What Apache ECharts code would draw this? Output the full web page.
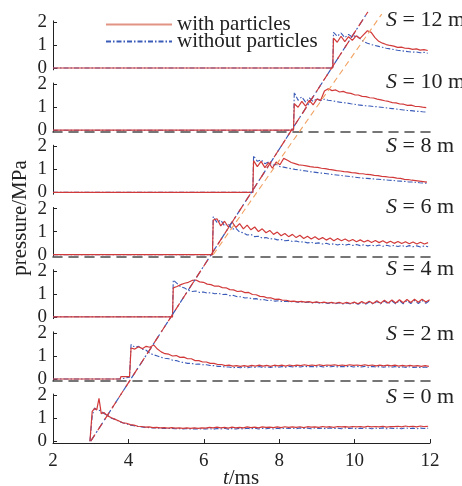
<!DOCTYPE html>
<html><head><meta charset="utf-8">
<script src="https://cdn.jsdelivr.net/npm/echarts@6/dist/echarts.min.js"></script>
<style>html,body{margin:0;padding:0;background:#fff}#c{width:462px;height:486px}</style>
</head><body><div id="c"></div>
<script>
// ---------------- data ----------------
const distances = ['12', '10', '8', '6', '4', '2', '0'];   // S in m, top to bottom
const xTicks = [2, 4, 6, 8, 10, 12];
const yTicks = [0, 1, 2];
const STEP = 0.1; // ms between tail samples

// S = 12 m
const head12T = [2, 9.42], head12W = [0, 0], head12N = [0, 0], tail12T0 = 9.44;
const tail12W = [1.30,1.12,1.38,1.15,1.36,1.20,1.40,1.28,1.45,1.62,1.55,1.32,1.16,1.08,1.02,0.98,0.95,0.90,0.91,0.86,0.85,0.81,0.83,0.78,0.80,0.76];
const tail12N = [1.55,1.38,1.52,1.32,1.46,1.34,1.42,1.28,1.15,1.08,1.02,0.98,0.94,0.90,0.86,0.83,0.80,0.77,0.75,0.73,0.71,0.69,0.70,0.66,0.68,0.64];
// S = 10 m
const head10T = [2, 8.38], head10W = [0, 0], head10N = [0, 0], tail10T0 = 8.40;
const tail10W = [1.15,1.00,1.25,1.05,1.30,1.10,1.35,1.30,1.70,1.80,1.72,1.75,1.66,1.69,1.62,1.60,1.54,1.53,1.47,1.46,1.41,1.40,1.35,1.32,1.28,1.25,1.20,1.19,1.14,1.13,1.08,1.09,1.04,1.03,1.00,0.98];
const tail10N = [1.65,1.30,1.45,1.22,1.40,1.25,1.38,1.28,1.35,1.30,1.28,1.25,1.22,1.20,1.18,1.15,1.13,1.10,1.08,1.06,1.05,1.03,1.02,1.00,0.98,0.96,0.94,0.92,0.90,0.88,0.86,0.85,0.83,0.82,0.80,0.79];
// S = 8 m
const head8T = [2, 7.30], head8W = [0, 0], head8N = [0, 0], tail8T0 = 7.32;
const tail8W = [1.38,1.12,1.35,1.08,1.30,1.05,1.32,1.20,1.48,1.40,1.30,1.25,1.20,1.18,1.15,1.12,1.10,1.09,1.05,1.03,1.00,0.98,0.95,0.93,0.90,0.89,0.86,0.85,0.82,0.81,0.78,0.77,0.74,0.73,0.70,0.69,0.66,0.65,0.62,0.61,0.57,0.56,0.53,0.51,0.49,0.47,0.45];
const tail8N = [1.60,1.35,1.42,1.25,1.32,1.18,1.22,1.12,1.10,1.06,1.03,1.00,0.98,0.95,0.93,0.90,0.88,0.86,0.84,0.82,0.80,0.78,0.76,0.74,0.72,0.70,0.68,0.66,0.64,0.62,0.61,0.60,0.58,0.57,0.56,0.54,0.53,0.52,0.50,0.49,0.48,0.46,0.45,0.44,0.42,0.41,0.40];
// S = 6 m
const head6T = [2, 6.23], head6W = [0, 0], head6N = [0, 0], tail6T0 = 6.25;
const tail6W = [1.50,1.56,1.25,1.45,1.20,1.42,1.18,1.35,1.12,1.28,1.08,1.20,1.00,1.12,0.95,1.05,0.88,0.98,0.82,0.92,0.78,0.88,0.74,0.84,0.70,0.80,0.68,0.78,0.66,0.74,0.63,0.72,0.60,0.70,0.60,0.68,0.58,0.66,0.56,0.64,0.55,0.62,0.53,0.61,0.52,0.60,0.50,0.58,0.49,0.57,0.48,0.56,0.47,0.55,0.46,0.54,0.46,0.52];
const tail6N = [1.65,1.40,1.50,1.25,1.35,1.10,1.15,0.98,0.95,0.85,0.88,0.78,0.80,0.72,0.74,0.68,0.70,0.64,0.66,0.60,0.62,0.57,0.59,0.54,0.56,0.51,0.53,0.49,0.51,0.46,0.49,0.44,0.47,0.42,0.46,0.41,0.45,0.40,0.44,0.39,0.43,0.38,0.42,0.37,0.42,0.36,0.41,0.36,0.40,0.35,0.40,0.34,0.39,0.34,0.38,0.33,0.38,0.34];
// S = 4 m
const head4T = [2, 5.17], head4W = [0, 0], head4N = [0, 0], tail4T0 = 5.19;
const tail4W = [1.26,1.32,1.40,1.46,1.50,1.58,1.60,1.52,1.50,1.42,1.40,1.33,1.34,1.27,1.26,1.18,1.17,1.10,1.12,1.05,1.06,0.97,0.96,0.89,0.88,0.82,0.82,0.76,0.77,0.72,0.72,0.67,0.68,0.65,0.67,0.64,0.66,0.62,0.65,0.61,0.64,0.60,0.63,0.59,0.63,0.58,0.63,0.58,0.64,0.57,0.66,0.58,0.68,0.58,0.70,0.59,0.72,0.60,0.73,0.60,0.74,0.61,0.75,0.62,0.76,0.63,0.76,0.64,0.74];
const tail4N = [1.60,1.45,1.30,1.25,1.15,1.10,1.12,1.06,1.08,1.03,1.05,1.00,1.02,0.97,0.98,0.92,0.93,0.87,0.87,0.82,0.83,0.78,0.79,0.74,0.75,0.71,0.72,0.68,0.70,0.66,0.68,0.65,0.67,0.63,0.65,0.62,0.64,0.60,0.63,0.59,0.62,0.58,0.61,0.57,0.61,0.56,0.60,0.56,0.61,0.55,0.62,0.55,0.64,0.55,0.66,0.56,0.68,0.56,0.69,0.57,0.70,0.57,0.70,0.58,0.71,0.58,0.71,0.59,0.70];
// S = 2 m
const head2T = [2, 3.78, 3.80, 4.03, 4.05], head2W = [0, 0, 0.10, 0.10, 0.05], head2N = [0, 0, 0.08, 0.08, 0.04], tail2T0 = 4.07;
const tail2W = [1.35,1.30,1.40,1.32,1.42,1.38,1.48,1.30,1.18,1.10,1.08,1.00,1.02,0.94,0.95,0.88,0.88,0.80,0.80,0.74,0.74,0.68,0.68,0.63,0.63,0.58,0.60,0.56,0.58,0.55,0.58,0.55,0.59,0.56,0.60,0.56,0.59,0.55,0.60,0.57,0.60,0.56,0.61,0.57,0.60,0.58,0.62,0.58,0.61,0.58,0.62,0.58,0.61,0.59,0.62,0.58,0.61,0.58,0.62,0.59,0.61,0.58,0.62,0.58,0.61,0.57,0.60,0.57,0.60,0.57,0.60,0.56,0.59,0.56,0.59,0.56,0.58,0.55,0.58,0.55];
const tail2N = [1.50,1.38,1.42,1.30,1.25,1.12,1.05,1.00,0.94,0.90,0.88,0.82,0.80,0.74,0.72,0.68,0.68,0.64,0.65,0.62,0.62,0.59,0.58,0.55,0.55,0.52,0.52,0.49,0.51,0.49,0.52,0.49,0.53,0.50,0.54,0.50,0.53,0.50,0.54,0.51,0.54,0.51,0.55,0.52,0.55,0.52,0.56,0.53,0.55,0.52,0.56,0.52,0.55,0.53,0.56,0.52,0.55,0.53,0.56,0.52,0.55,0.52,0.55,0.51,0.55,0.52,0.54,0.51,0.54,0.51,0.54,0.50,0.53,0.50,0.53,0.50,0.52,0.49,0.52,0.49];
// S = 0 m
const head0T = [2.98, 3.04, 3.10, 3.16, 3.22, 3.28], head0W = [0, 1.30, 1.42, 1.36, 1.86, 1.20], head0N = [0, 1.10, 1.44, 1.38, 1.35, 1.30], tail0T0 = 3.35;
const tail0W = [1.25,1.10,1.02,0.95,0.88,0.80,0.78,0.72,0.70,0.65,0.64,0.61,0.62,0.59,0.60,0.58,0.59,0.57,0.59,0.57,0.58,0.56,0.58,0.56,0.58,0.56,0.58,
  0.57,0.60,0.58,0.61,0.58,0.60,0.57,0.61,0.58,0.60,0.58,0.62,0.59,0.61,0.58,0.62,0.60,0.61,0.59,0.62,0.59,0.63,0.60,0.62,0.60,0.63,0.59,0.63,0.61,0.62,
  0.60,0.64,0.61,0.63,0.60,0.64,0.62,0.63,0.61,0.64,0.62,0.64,0.61,0.65,0.62,0.64,0.62,0.65,0.61,0.64,0.63,0.65,0.62,0.66,0.63,0.65,0.62,0.66,0.63,0.65];
const tail0N = [1.20,1.12,1.00,0.95,0.86,0.80,0.75,0.70,0.67,0.64,0.62,0.60,0.59,0.58,0.57,0.56,0.56,0.55,0.56,0.54,0.55,0.53,0.55,0.53,0.54,0.53,0.54,
  0.53,0.55,0.52,0.55,0.53,0.56,0.52,0.55,0.53,0.56,0.53,0.56,0.54,0.57,0.53,0.56,0.54,0.57,0.53,0.56,0.54,0.57,0.55,0.57,0.54,0.58,0.55,0.57,0.54,0.58,
  0.55,0.57,0.54,0.58,0.55,0.57,0.54,0.58,0.55,0.57,0.54,0.57,0.55,0.58,0.54,0.57,0.55,0.58,0.54,0.57,0.55,0.57,0.54,0.58,0.55,0.57,0.54,0.57,0.55,0.57];

// pressure-front trajectories across the stacked panels (x in ms, y in stacked-panel units)
const frontT = [3.00, 10.35], frontV = [0, 18.66];
const frontPT = [6.25, 10.72], frontPV = [8.11, 18.57];

// ---------------- chart ----------------
const panelHeads = [
  [head12T, head12W, head12N, tail12T0, tail12W, tail12N],
  [head10T, head10W, head10N, tail10T0, tail10W, tail10N],
  [head8T, head8W, head8N, tail8T0, tail8W, tail8N],
  [head6T, head6W, head6N, tail6T0, tail6W, tail6N],
  [head4T, head4W, head4N, tail4T0, tail4W, tail4N],
  [head2T, head2W, head2N, tail2T0, tail2W, tail2N],
  [head0T, head0W, head0N, tail0T0, tail0W, tail0N]
];
function build(ht, hv, t0, tv) {
  const pts = ht.map((t, i) => [t, hv[i]]);
  tv.forEach((v, i) => pts.push([Math.round((t0 + STEP * i) * 100) / 100, v]));
  return pts;
}
const FONT = "'Liberation Serif','Times New Roman',serif";
const RED = '#d23a3a', BLUE = '#3b5bb8', ORANGE = '#f1a262', INK = '#222';
const PITCH = 62.2, TOP0 = 20.85, PH = 49;
const dashedPanels = [1, 3, 5];

const grid = [], xAxis = [], yAxis = [], series = [];
panelHeads.forEach((p, i) => {
  grid.push({ left: 53, right: 32, top: TOP0 + PITCH * i, height: PH });
  const bottom = i === 6, dashed = dashedPanels.includes(i);
  xAxis.push({
    gridIndex: i, type: 'value', min: 2, max: 12, interval: 2,
    show: bottom || dashed,
    axisLine: { show: true, onZero: false, lineStyle: bottom ? { color: INK, width: 1 } : { color: '#4a4a4a', width: 1.6, type: [9, 7] } },
    axisTick: { show: bottom, inside: true, length: 4, lineStyle: { color: INK } },
    axisLabel: { show: bottom, fontFamily: FONT, fontSize: 19, color: INK, margin: 8, showMinLabel: true, showMaxLabel: true, hideOverlap: false },
    splitLine: { show: false }
  });
  yAxis.push({
    gridIndex: i, type: 'value', min: -0.08, max: 2.05,
    axisLine: { show: true, lineStyle: { color: INK, width: 1 } },
    axisTick: { show: true, inside: true, length: 4, customValues: yTicks, lineStyle: { color: INK } },
    axisLabel: { show: true, customValues: yTicks, fontFamily: FONT, fontSize: 19, color: INK, margin: 6, showMinLabel: true, showMaxLabel: true, hideOverlap: false },
    splitLine: { show: false }
  });
  series.push({
    type: 'line', name: 'without particles', xAxisIndex: i, yAxisIndex: i,
    data: build(p[0], p[2], p[3], p[5]), symbol: 'none', showSymbol: false,
    lineStyle: { color: BLUE, width: 1.1, type: [5, 2, 1.5, 2] }, itemStyle: { color: BLUE }, z: 2, silent: true
  });
  series.push({
    type: 'line', name: 'with particles', xAxisIndex: i, yAxisIndex: i,
    data: build(p[0], p[1], p[3], p[4]), symbol: 'none', showSymbol: false,
    lineStyle: { color: RED, width: 1.2 }, itemStyle: { color: RED }, z: 3, silent: true
  });
});
// overlay grid for the trajectory lines
grid.push({ left: 53, right: 32, top: 4.2, height: 437 });
xAxis.push({ gridIndex: 7, type: 'value', min: 2, max: 12, show: false });
yAxis.push({ gridIndex: 7, type: 'value', min: 0, max: 19, show: false });
series.push({ type: 'line', name: 'front-without', xAxisIndex: 7, yAxisIndex: 7, data: frontT.map((t, i) => [t, frontV[i]]),
  symbol: 'none', lineStyle: { color: BLUE, width: 1.2, type: [7, 3, 2, 3] }, z: 4, silent: true });
series.push({ type: 'line', name: 'front-with', xAxisIndex: 7, yAxisIndex: 7, data: frontT.map((t, i) => [t, frontV[i]]),
  symbol: 'none', lineStyle: { color: RED, width: 1.2, type: [8, 5] }, z: 4, silent: true });
series.push({ type: 'line', name: 'front-with-2', xAxisIndex: 7, yAxisIndex: 7, data: frontPT.map((t, i) => [t, frontPV[i]]),
  symbol: 'none', lineStyle: { color: ORANGE, width: 1.1, type: [6, 4] }, z: 4, silent: true });

const labelY = [20, 82, 146, 207, 269, 334, 397];
const graphic = distances.map((d, i) => ({
  type: 'text', x: 386, y: labelY[i],
  style: { text: '{i|S} = ' + d + ' m', fontFamily: FONT, fontSize: 22, fill: INK, verticalAlign: 'middle', align: 'left',
    rich: { i: { fontFamily: FONT, fontSize: 22, fontStyle: 'italic', fill: INK } } }
}));
graphic.push({ type: 'text', x: 20, y: 218, rotation: Math.PI / 2,
  style: { text: 'pressure/MPa', fontFamily: FONT, fontSize: 21, fill: INK, align: 'center', verticalAlign: 'middle' } });
graphic.push({ type: 'text', x: 241, y: 478,
  style: { text: '{i|t}/ms', fontFamily: FONT, fontSize: 21, fill: INK, align: 'center', verticalAlign: 'middle',
    rich: { i: { fontFamily: FONT, fontSize: 21, fontStyle: 'italic', fill: INK } } } });

const chart = echarts.init(document.getElementById('c'), null, { renderer: 'canvas' });
chart.setOption({
  animation: false,
  backgroundColor: '#fff',
  grid, xAxis, yAxis, series, graphic,
  legend: {
    data: [
      { name: 'with particles', lineStyle: { color: '#e29484' }, itemStyle: { color: '#e29484', opacity: 0 } },
      { name: 'without particles', itemStyle: { opacity: 0 } }
    ],
    itemStyle: { opacity: 0 },
    orient: 'vertical', left: 100, top: 9, itemWidth: 66, itemHeight: 12, itemGap: -4,
    selectedMode: false,
    textStyle: { fontFamily: FONT, fontSize: 21, color: INK, lineHeight: 16 }
  }
});
</script>
</body></html>
